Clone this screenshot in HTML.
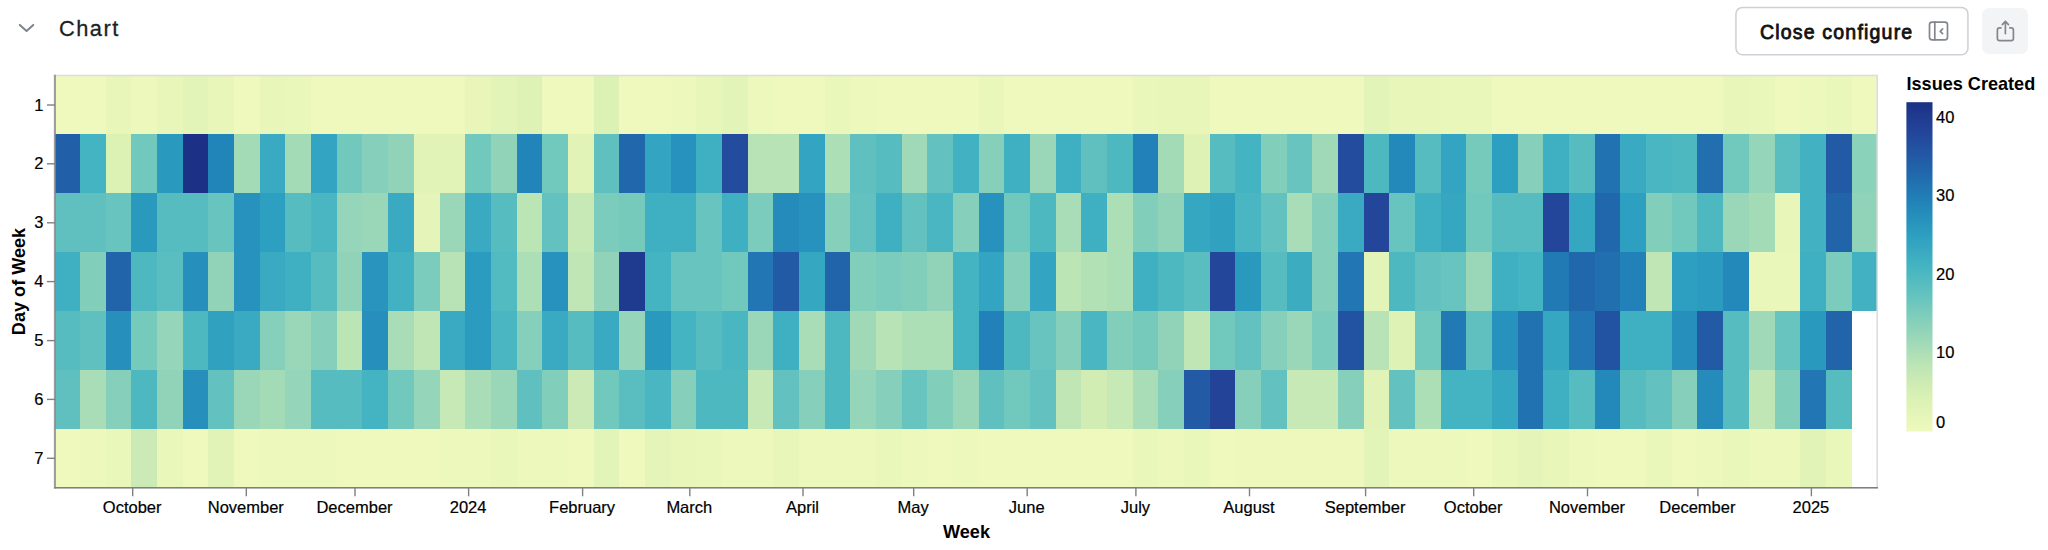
<!DOCTYPE html>
<html><head><meta charset="utf-8"><title>Chart</title>
<style>
html,body{margin:0;padding:0;background:#fff;}
body{width:2048px;height:550px;overflow:hidden;position:relative;font-family:"Liberation Sans",sans-serif;}
#hdr-title{position:absolute;left:59px;top:14.7px;font-size:21.8px;line-height:28px;color:#1b1f23;letter-spacing:1.5px;-webkit-text-stroke:0.3px #1b1f23;}
#btn{position:absolute;left:1736.5px;top:8px;width:232px;height:47.5px;}
#btn span{position:absolute;left:23.4px;top:11.5px;font-size:19.5px;line-height:24px;color:#111;letter-spacing:1.2px;-webkit-text-stroke:0.8px #111;white-space:nowrap;}
#share{position:absolute;left:1982px;top:8px;width:46px;height:46px;border-radius:7px;background:#f3f4f6;}
svg{position:absolute;left:0;top:0;}
.ax line{stroke:#808080;stroke-width:1.4;}
.lbl text{font-family:"Liberation Sans",sans-serif;font-size:16.5px;fill:#000;stroke:#000;stroke-width:0.2px;}
.ttl{font-family:"Liberation Sans",sans-serif;font-size:18.1px;font-weight:bold;fill:#000;}
</style></head><body>
<div id="hdr-title">Chart</div>
<div id="btn"><span>Close configure</span></div>
<div id="share"></div>
<svg width="2048" height="550" viewBox="0 0 2048 550">
<defs><linearGradient id="lg" x1="0" y1="0" x2="0" y2="1"><stop offset="0.0%" stop-color="#1c3185"/><stop offset="10.0%" stop-color="#23479c"/><stop offset="20.0%" stop-color="#2163aa"/><stop offset="30.0%" stop-color="#2182b8"/><stop offset="40.0%" stop-color="#2c9ec0"/><stop offset="50.0%" stop-color="#45b4c2"/><stop offset="60.0%" stop-color="#69c5be"/><stop offset="70.0%" stop-color="#94d5b9"/><stop offset="80.0%" stop-color="#bde5b5"/><stop offset="90.0%" stop-color="#dbf1b4"/><stop offset="100.0%" stop-color="#eff9bd"/></linearGradient></defs>
<g id="cells" shape-rendering="crispEdges">
<rect x="54.40" y="75.50" width="25.97" height="59.20" fill="#eff9bd"/>
<rect x="80.07" y="75.50" width="25.97" height="59.20" fill="#eff9bd"/>
<rect x="105.75" y="75.50" width="25.97" height="59.20" fill="#e8f6ba"/>
<rect x="131.42" y="75.50" width="25.97" height="59.20" fill="#edf8bc"/>
<rect x="157.09" y="75.50" width="25.97" height="59.20" fill="#e8f6ba"/>
<rect x="182.77" y="75.50" width="25.97" height="59.20" fill="#e3f4b8"/>
<rect x="208.44" y="75.50" width="25.97" height="59.20" fill="#e8f6ba"/>
<rect x="234.11" y="75.50" width="25.97" height="59.20" fill="#eff9bd"/>
<rect x="259.79" y="75.50" width="25.97" height="59.20" fill="#e8f6ba"/>
<rect x="285.46" y="75.50" width="25.97" height="59.20" fill="#eaf7bb"/>
<rect x="311.13" y="75.50" width="25.97" height="59.20" fill="#eff9bd"/>
<rect x="336.81" y="75.50" width="25.97" height="59.20" fill="#eff9bd"/>
<rect x="362.48" y="75.50" width="25.97" height="59.20" fill="#eff9bd"/>
<rect x="388.15" y="75.50" width="25.97" height="59.20" fill="#eff9bd"/>
<rect x="413.83" y="75.50" width="25.97" height="59.20" fill="#eff9bd"/>
<rect x="439.50" y="75.50" width="25.97" height="59.20" fill="#eff9bd"/>
<rect x="465.17" y="75.50" width="25.97" height="59.20" fill="#e8f6ba"/>
<rect x="490.85" y="75.50" width="25.97" height="59.20" fill="#e3f4b8"/>
<rect x="516.52" y="75.50" width="25.97" height="59.20" fill="#def2b6"/>
<rect x="542.19" y="75.50" width="25.97" height="59.20" fill="#eff9bd"/>
<rect x="567.86" y="75.50" width="25.97" height="59.20" fill="#eff9bd"/>
<rect x="593.54" y="75.50" width="25.97" height="59.20" fill="#dcf1b4"/>
<rect x="619.21" y="75.50" width="25.97" height="59.20" fill="#eff9bd"/>
<rect x="644.88" y="75.50" width="25.97" height="59.20" fill="#eff9bd"/>
<rect x="670.56" y="75.50" width="25.97" height="59.20" fill="#edf8bc"/>
<rect x="696.23" y="75.50" width="25.97" height="59.20" fill="#e8f6ba"/>
<rect x="721.90" y="75.50" width="25.97" height="59.20" fill="#e3f4b8"/>
<rect x="747.58" y="75.50" width="25.97" height="59.20" fill="#edf8bc"/>
<rect x="773.25" y="75.50" width="25.97" height="59.20" fill="#eff9bd"/>
<rect x="798.92" y="75.50" width="25.97" height="59.20" fill="#eff9bd"/>
<rect x="824.60" y="75.50" width="25.97" height="59.20" fill="#eaf7bb"/>
<rect x="850.27" y="75.50" width="25.97" height="59.20" fill="#edf8bc"/>
<rect x="875.94" y="75.50" width="25.97" height="59.20" fill="#eff9bd"/>
<rect x="901.62" y="75.50" width="25.97" height="59.20" fill="#eff9bd"/>
<rect x="927.29" y="75.50" width="25.97" height="59.20" fill="#eff9bd"/>
<rect x="952.96" y="75.50" width="25.97" height="59.20" fill="#eff9bd"/>
<rect x="978.64" y="75.50" width="25.97" height="59.20" fill="#eaf7bb"/>
<rect x="1004.31" y="75.50" width="25.97" height="59.20" fill="#eff9bd"/>
<rect x="1029.98" y="75.50" width="25.97" height="59.20" fill="#eff9bd"/>
<rect x="1055.66" y="75.50" width="25.97" height="59.20" fill="#eff9bd"/>
<rect x="1081.33" y="75.50" width="25.97" height="59.20" fill="#eff9bd"/>
<rect x="1107.00" y="75.50" width="25.97" height="59.20" fill="#eff9bd"/>
<rect x="1132.68" y="75.50" width="25.97" height="59.20" fill="#eaf7bb"/>
<rect x="1158.35" y="75.50" width="25.97" height="59.20" fill="#e8f6ba"/>
<rect x="1184.02" y="75.50" width="25.97" height="59.20" fill="#e8f6ba"/>
<rect x="1209.70" y="75.50" width="25.97" height="59.20" fill="#eff9bd"/>
<rect x="1235.37" y="75.50" width="25.97" height="59.20" fill="#eff9bd"/>
<rect x="1261.04" y="75.50" width="25.97" height="59.20" fill="#eff9bd"/>
<rect x="1286.72" y="75.50" width="25.97" height="59.20" fill="#eff9bd"/>
<rect x="1312.39" y="75.50" width="25.97" height="59.20" fill="#eff9bd"/>
<rect x="1338.06" y="75.50" width="25.97" height="59.20" fill="#eff9bd"/>
<rect x="1363.74" y="75.50" width="25.97" height="59.20" fill="#e3f4b8"/>
<rect x="1389.41" y="75.50" width="25.97" height="59.20" fill="#e8f6ba"/>
<rect x="1415.08" y="75.50" width="25.97" height="59.20" fill="#e8f6ba"/>
<rect x="1440.75" y="75.50" width="25.97" height="59.20" fill="#eaf7bb"/>
<rect x="1466.43" y="75.50" width="25.97" height="59.20" fill="#eaf7bb"/>
<rect x="1492.10" y="75.50" width="25.97" height="59.20" fill="#eff9bd"/>
<rect x="1517.77" y="75.50" width="25.97" height="59.20" fill="#eff9bd"/>
<rect x="1543.45" y="75.50" width="25.97" height="59.20" fill="#eff9bd"/>
<rect x="1569.12" y="75.50" width="25.97" height="59.20" fill="#eff9bd"/>
<rect x="1594.79" y="75.50" width="25.97" height="59.20" fill="#eff9bd"/>
<rect x="1620.47" y="75.50" width="25.97" height="59.20" fill="#eff9bd"/>
<rect x="1646.14" y="75.50" width="25.97" height="59.20" fill="#eff9bd"/>
<rect x="1671.81" y="75.50" width="25.97" height="59.20" fill="#eff9bd"/>
<rect x="1697.49" y="75.50" width="25.97" height="59.20" fill="#eff9bd"/>
<rect x="1723.16" y="75.50" width="25.97" height="59.20" fill="#e8f6ba"/>
<rect x="1748.83" y="75.50" width="25.97" height="59.20" fill="#eaf7bb"/>
<rect x="1774.51" y="75.50" width="25.97" height="59.20" fill="#eff9bd"/>
<rect x="1800.18" y="75.50" width="25.97" height="59.20" fill="#edf8bc"/>
<rect x="1825.85" y="75.50" width="25.97" height="59.20" fill="#eaf7bb"/>
<rect x="1851.53" y="75.50" width="25.97" height="59.20" fill="#eff9bd"/>
<rect x="54.40" y="134.40" width="25.97" height="59.20" fill="#2160a9"/>
<rect x="80.07" y="134.40" width="25.97" height="59.20" fill="#45b4c2"/>
<rect x="105.75" y="134.40" width="25.97" height="59.20" fill="#dcf1b4"/>
<rect x="131.42" y="134.40" width="25.97" height="59.20" fill="#71c8bd"/>
<rect x="157.09" y="134.40" width="25.97" height="59.20" fill="#2a99be"/>
<rect x="182.77" y="134.40" width="25.97" height="59.20" fill="#1c3185"/>
<rect x="208.44" y="134.40" width="25.97" height="59.20" fill="#2285b9"/>
<rect x="234.11" y="134.40" width="25.97" height="59.20" fill="#a4dbb7"/>
<rect x="259.79" y="134.40" width="25.97" height="59.20" fill="#39aac1"/>
<rect x="285.46" y="134.40" width="25.97" height="59.20" fill="#a4dbb7"/>
<rect x="311.13" y="134.40" width="25.97" height="59.20" fill="#33a4c1"/>
<rect x="336.81" y="134.40" width="25.97" height="59.20" fill="#71c8bd"/>
<rect x="362.48" y="134.40" width="25.97" height="59.20" fill="#86d0bb"/>
<rect x="388.15" y="134.40" width="25.97" height="59.20" fill="#90d3b9"/>
<rect x="413.83" y="134.40" width="25.97" height="59.20" fill="#e1f3b7"/>
<rect x="439.50" y="134.40" width="25.97" height="59.20" fill="#e1f3b7"/>
<rect x="465.17" y="134.40" width="25.97" height="59.20" fill="#71c8bd"/>
<rect x="490.85" y="134.40" width="25.97" height="59.20" fill="#90d3b9"/>
<rect x="516.52" y="134.40" width="25.97" height="59.20" fill="#2285b9"/>
<rect x="542.19" y="134.40" width="25.97" height="59.20" fill="#71c8bd"/>
<rect x="567.86" y="134.40" width="25.97" height="59.20" fill="#e1f3b7"/>
<rect x="593.54" y="134.40" width="25.97" height="59.20" fill="#5fc0bf"/>
<rect x="619.21" y="134.40" width="25.97" height="59.20" fill="#2167ac"/>
<rect x="644.88" y="134.40" width="25.97" height="59.20" fill="#33a4c1"/>
<rect x="670.56" y="134.40" width="25.97" height="59.20" fill="#2792bd"/>
<rect x="696.23" y="134.40" width="25.97" height="59.20" fill="#3fafc2"/>
<rect x="721.90" y="134.40" width="25.97" height="59.20" fill="#234c9f"/>
<rect x="747.58" y="134.40" width="25.97" height="59.20" fill="#b7e3b6"/>
<rect x="773.25" y="134.40" width="25.97" height="59.20" fill="#b7e3b6"/>
<rect x="798.92" y="134.40" width="25.97" height="59.20" fill="#33a4c1"/>
<rect x="824.60" y="134.40" width="25.97" height="59.20" fill="#addfb7"/>
<rect x="850.27" y="134.40" width="25.97" height="59.20" fill="#5fc0bf"/>
<rect x="875.94" y="134.40" width="25.97" height="59.20" fill="#56bcc0"/>
<rect x="901.62" y="134.40" width="25.97" height="59.20" fill="#9fd9b8"/>
<rect x="927.29" y="134.40" width="25.97" height="59.20" fill="#63c2bf"/>
<rect x="952.96" y="134.40" width="25.97" height="59.20" fill="#42b1c2"/>
<rect x="978.64" y="134.40" width="25.97" height="59.20" fill="#86d0bb"/>
<rect x="1004.31" y="134.40" width="25.97" height="59.20" fill="#3fafc2"/>
<rect x="1029.98" y="134.40" width="25.97" height="59.20" fill="#9ad7b8"/>
<rect x="1055.66" y="134.40" width="25.97" height="59.20" fill="#3fafc2"/>
<rect x="1081.33" y="134.40" width="25.97" height="59.20" fill="#5fc0bf"/>
<rect x="1107.00" y="134.40" width="25.97" height="59.20" fill="#4eb8c1"/>
<rect x="1132.68" y="134.40" width="25.97" height="59.20" fill="#2181b8"/>
<rect x="1158.35" y="134.40" width="25.97" height="59.20" fill="#a4dbb7"/>
<rect x="1184.02" y="134.40" width="25.97" height="59.20" fill="#def2b6"/>
<rect x="1209.70" y="134.40" width="25.97" height="59.20" fill="#56bcc0"/>
<rect x="1235.37" y="134.40" width="25.97" height="59.20" fill="#45b4c2"/>
<rect x="1261.04" y="134.40" width="25.97" height="59.20" fill="#81cebb"/>
<rect x="1286.72" y="134.40" width="25.97" height="59.20" fill="#67c4be"/>
<rect x="1312.39" y="134.40" width="25.97" height="59.20" fill="#9fd9b8"/>
<rect x="1338.06" y="134.40" width="25.97" height="59.20" fill="#234c9f"/>
<rect x="1363.74" y="134.40" width="25.97" height="59.20" fill="#4eb8c1"/>
<rect x="1389.41" y="134.40" width="25.97" height="59.20" fill="#2388ba"/>
<rect x="1415.08" y="134.40" width="25.97" height="59.20" fill="#56bcc0"/>
<rect x="1440.75" y="134.40" width="25.97" height="59.20" fill="#33a4c1"/>
<rect x="1466.43" y="134.40" width="25.97" height="59.20" fill="#76cabc"/>
<rect x="1492.10" y="134.40" width="25.97" height="59.20" fill="#2d9fc0"/>
<rect x="1517.77" y="134.40" width="25.97" height="59.20" fill="#86d0bb"/>
<rect x="1543.45" y="134.40" width="25.97" height="59.20" fill="#3fafc2"/>
<rect x="1569.12" y="134.40" width="25.97" height="59.20" fill="#56bcc0"/>
<rect x="1594.79" y="134.40" width="25.97" height="59.20" fill="#2172b1"/>
<rect x="1620.47" y="134.40" width="25.97" height="59.20" fill="#39aac1"/>
<rect x="1646.14" y="134.40" width="25.97" height="59.20" fill="#49b6c2"/>
<rect x="1671.81" y="134.40" width="25.97" height="59.20" fill="#4eb8c1"/>
<rect x="1697.49" y="134.40" width="25.97" height="59.20" fill="#216faf"/>
<rect x="1723.16" y="134.40" width="25.97" height="59.20" fill="#71c8bd"/>
<rect x="1748.83" y="134.40" width="25.97" height="59.20" fill="#95d5b9"/>
<rect x="1774.51" y="134.40" width="25.97" height="59.20" fill="#5abec0"/>
<rect x="1800.18" y="134.40" width="25.97" height="59.20" fill="#42b1c2"/>
<rect x="1825.85" y="134.40" width="25.97" height="59.20" fill="#225aa5"/>
<rect x="1851.53" y="134.40" width="25.97" height="59.20" fill="#8bd2ba"/>
<rect x="54.40" y="193.30" width="25.97" height="59.20" fill="#5fc0bf"/>
<rect x="80.07" y="193.30" width="25.97" height="59.20" fill="#5fc0bf"/>
<rect x="105.75" y="193.30" width="25.97" height="59.20" fill="#67c4be"/>
<rect x="131.42" y="193.30" width="25.97" height="59.20" fill="#2a99be"/>
<rect x="157.09" y="193.30" width="25.97" height="59.20" fill="#56bcc0"/>
<rect x="182.77" y="193.30" width="25.97" height="59.20" fill="#56bcc0"/>
<rect x="208.44" y="193.30" width="25.97" height="59.20" fill="#67c4be"/>
<rect x="234.11" y="193.30" width="25.97" height="59.20" fill="#2792bd"/>
<rect x="259.79" y="193.30" width="25.97" height="59.20" fill="#2d9fc0"/>
<rect x="285.46" y="193.30" width="25.97" height="59.20" fill="#56bcc0"/>
<rect x="311.13" y="193.30" width="25.97" height="59.20" fill="#49b6c2"/>
<rect x="336.81" y="193.30" width="25.97" height="59.20" fill="#95d5b9"/>
<rect x="362.48" y="193.30" width="25.97" height="59.20" fill="#9ad7b8"/>
<rect x="388.15" y="193.30" width="25.97" height="59.20" fill="#39aac1"/>
<rect x="413.83" y="193.30" width="25.97" height="59.20" fill="#e5f5b9"/>
<rect x="439.50" y="193.30" width="25.97" height="59.20" fill="#9ad7b8"/>
<rect x="465.17" y="193.30" width="25.97" height="59.20" fill="#39aac1"/>
<rect x="490.85" y="193.30" width="25.97" height="59.20" fill="#56bcc0"/>
<rect x="516.52" y="193.30" width="25.97" height="59.20" fill="#bce5b5"/>
<rect x="542.19" y="193.30" width="25.97" height="59.20" fill="#63c2bf"/>
<rect x="567.86" y="193.30" width="25.97" height="59.20" fill="#c7e9b5"/>
<rect x="593.54" y="193.30" width="25.97" height="59.20" fill="#7bccbc"/>
<rect x="619.21" y="193.30" width="25.97" height="59.20" fill="#76cabc"/>
<rect x="644.88" y="193.30" width="25.97" height="59.20" fill="#3fafc2"/>
<rect x="670.56" y="193.30" width="25.97" height="59.20" fill="#3fafc2"/>
<rect x="696.23" y="193.30" width="25.97" height="59.20" fill="#67c4be"/>
<rect x="721.90" y="193.30" width="25.97" height="59.20" fill="#3fafc2"/>
<rect x="747.58" y="193.30" width="25.97" height="59.20" fill="#7bccbc"/>
<rect x="773.25" y="193.30" width="25.97" height="59.20" fill="#258bbb"/>
<rect x="798.92" y="193.30" width="25.97" height="59.20" fill="#2792bd"/>
<rect x="824.60" y="193.30" width="25.97" height="59.20" fill="#86d0bb"/>
<rect x="850.27" y="193.30" width="25.97" height="59.20" fill="#63c2bf"/>
<rect x="875.94" y="193.30" width="25.97" height="59.20" fill="#3fafc2"/>
<rect x="901.62" y="193.30" width="25.97" height="59.20" fill="#63c2bf"/>
<rect x="927.29" y="193.30" width="25.97" height="59.20" fill="#49b6c2"/>
<rect x="952.96" y="193.30" width="25.97" height="59.20" fill="#86d0bb"/>
<rect x="978.64" y="193.30" width="25.97" height="59.20" fill="#2792bd"/>
<rect x="1004.31" y="193.30" width="25.97" height="59.20" fill="#71c8bd"/>
<rect x="1029.98" y="193.30" width="25.97" height="59.20" fill="#4eb8c1"/>
<rect x="1055.66" y="193.30" width="25.97" height="59.20" fill="#a8ddb7"/>
<rect x="1081.33" y="193.30" width="25.97" height="59.20" fill="#3fafc2"/>
<rect x="1107.00" y="193.30" width="25.97" height="59.20" fill="#addfb7"/>
<rect x="1132.68" y="193.30" width="25.97" height="59.20" fill="#81cebb"/>
<rect x="1158.35" y="193.30" width="25.97" height="59.20" fill="#90d3b9"/>
<rect x="1184.02" y="193.30" width="25.97" height="59.20" fill="#36a7c1"/>
<rect x="1209.70" y="193.30" width="25.97" height="59.20" fill="#30a2c0"/>
<rect x="1235.37" y="193.30" width="25.97" height="59.20" fill="#49b6c2"/>
<rect x="1261.04" y="193.30" width="25.97" height="59.20" fill="#63c2bf"/>
<rect x="1286.72" y="193.30" width="25.97" height="59.20" fill="#a8ddb7"/>
<rect x="1312.39" y="193.30" width="25.97" height="59.20" fill="#86d0bb"/>
<rect x="1338.06" y="193.30" width="25.97" height="59.20" fill="#39aac1"/>
<rect x="1363.74" y="193.30" width="25.97" height="59.20" fill="#23469b"/>
<rect x="1389.41" y="193.30" width="25.97" height="59.20" fill="#67c4be"/>
<rect x="1415.08" y="193.30" width="25.97" height="59.20" fill="#3fafc2"/>
<rect x="1440.75" y="193.30" width="25.97" height="59.20" fill="#36a7c1"/>
<rect x="1466.43" y="193.30" width="25.97" height="59.20" fill="#71c8bd"/>
<rect x="1492.10" y="193.30" width="25.97" height="59.20" fill="#56bcc0"/>
<rect x="1517.77" y="193.30" width="25.97" height="59.20" fill="#56bcc0"/>
<rect x="1543.45" y="193.30" width="25.97" height="59.20" fill="#23469b"/>
<rect x="1569.12" y="193.30" width="25.97" height="59.20" fill="#36a7c1"/>
<rect x="1594.79" y="193.30" width="25.97" height="59.20" fill="#2167ac"/>
<rect x="1620.47" y="193.30" width="25.97" height="59.20" fill="#2d9fc0"/>
<rect x="1646.14" y="193.30" width="25.97" height="59.20" fill="#81cebb"/>
<rect x="1671.81" y="193.30" width="25.97" height="59.20" fill="#71c8bd"/>
<rect x="1697.49" y="193.30" width="25.97" height="59.20" fill="#4eb8c1"/>
<rect x="1723.16" y="193.30" width="25.97" height="59.20" fill="#9ad7b8"/>
<rect x="1748.83" y="193.30" width="25.97" height="59.20" fill="#a4dbb7"/>
<rect x="1774.51" y="193.30" width="25.97" height="59.20" fill="#e8f6ba"/>
<rect x="1800.18" y="193.30" width="25.97" height="59.20" fill="#42b1c2"/>
<rect x="1825.85" y="193.30" width="25.97" height="59.20" fill="#2164aa"/>
<rect x="1851.53" y="193.30" width="25.97" height="59.20" fill="#90d3b9"/>
<rect x="54.40" y="252.20" width="25.97" height="59.20" fill="#3fafc2"/>
<rect x="80.07" y="252.20" width="25.97" height="59.20" fill="#81cebb"/>
<rect x="105.75" y="252.20" width="25.97" height="59.20" fill="#2164aa"/>
<rect x="131.42" y="252.20" width="25.97" height="59.20" fill="#4eb8c1"/>
<rect x="157.09" y="252.20" width="25.97" height="59.20" fill="#5abec0"/>
<rect x="182.77" y="252.20" width="25.97" height="59.20" fill="#268fbc"/>
<rect x="208.44" y="252.20" width="25.97" height="59.20" fill="#90d3b9"/>
<rect x="234.11" y="252.20" width="25.97" height="59.20" fill="#2792bd"/>
<rect x="259.79" y="252.20" width="25.97" height="59.20" fill="#39aac1"/>
<rect x="285.46" y="252.20" width="25.97" height="59.20" fill="#3fafc2"/>
<rect x="311.13" y="252.20" width="25.97" height="59.20" fill="#56bcc0"/>
<rect x="336.81" y="252.20" width="25.97" height="59.20" fill="#90d3b9"/>
<rect x="362.48" y="252.20" width="25.97" height="59.20" fill="#2995be"/>
<rect x="388.15" y="252.20" width="25.97" height="59.20" fill="#42b1c2"/>
<rect x="413.83" y="252.20" width="25.97" height="59.20" fill="#7bccbc"/>
<rect x="439.50" y="252.20" width="25.97" height="59.20" fill="#b7e3b6"/>
<rect x="465.17" y="252.20" width="25.97" height="59.20" fill="#2b9cbf"/>
<rect x="490.85" y="252.20" width="25.97" height="59.20" fill="#52bac1"/>
<rect x="516.52" y="252.20" width="25.97" height="59.20" fill="#addfb7"/>
<rect x="542.19" y="252.20" width="25.97" height="59.20" fill="#2792bd"/>
<rect x="567.86" y="252.20" width="25.97" height="59.20" fill="#c0e6b5"/>
<rect x="593.54" y="252.20" width="25.97" height="59.20" fill="#90d3b9"/>
<rect x="619.21" y="252.20" width="25.97" height="59.20" fill="#1f3b90"/>
<rect x="644.88" y="252.20" width="25.97" height="59.20" fill="#45b4c2"/>
<rect x="670.56" y="252.20" width="25.97" height="59.20" fill="#67c4be"/>
<rect x="696.23" y="252.20" width="25.97" height="59.20" fill="#67c4be"/>
<rect x="721.90" y="252.20" width="25.97" height="59.20" fill="#71c8bd"/>
<rect x="747.58" y="252.20" width="25.97" height="59.20" fill="#2176b3"/>
<rect x="773.25" y="252.20" width="25.97" height="59.20" fill="#225aa5"/>
<rect x="798.92" y="252.20" width="25.97" height="59.20" fill="#36a7c1"/>
<rect x="824.60" y="252.20" width="25.97" height="59.20" fill="#2164aa"/>
<rect x="850.27" y="252.20" width="25.97" height="59.20" fill="#81cebb"/>
<rect x="875.94" y="252.20" width="25.97" height="59.20" fill="#7bccbc"/>
<rect x="901.62" y="252.20" width="25.97" height="59.20" fill="#81cebb"/>
<rect x="927.29" y="252.20" width="25.97" height="59.20" fill="#90d3b9"/>
<rect x="952.96" y="252.20" width="25.97" height="59.20" fill="#45b4c2"/>
<rect x="978.64" y="252.20" width="25.97" height="59.20" fill="#33a4c1"/>
<rect x="1004.31" y="252.20" width="25.97" height="59.20" fill="#86d0bb"/>
<rect x="1029.98" y="252.20" width="25.97" height="59.20" fill="#33a4c1"/>
<rect x="1055.66" y="252.20" width="25.97" height="59.20" fill="#bce5b5"/>
<rect x="1081.33" y="252.20" width="25.97" height="59.20" fill="#b2e1b6"/>
<rect x="1107.00" y="252.20" width="25.97" height="59.20" fill="#addfb7"/>
<rect x="1132.68" y="252.20" width="25.97" height="59.20" fill="#3fafc2"/>
<rect x="1158.35" y="252.20" width="25.97" height="59.20" fill="#4eb8c1"/>
<rect x="1184.02" y="252.20" width="25.97" height="59.20" fill="#5abec0"/>
<rect x="1209.70" y="252.20" width="25.97" height="59.20" fill="#23469b"/>
<rect x="1235.37" y="252.20" width="25.97" height="59.20" fill="#2a99be"/>
<rect x="1261.04" y="252.20" width="25.97" height="59.20" fill="#56bcc0"/>
<rect x="1286.72" y="252.20" width="25.97" height="59.20" fill="#3cacc1"/>
<rect x="1312.39" y="252.20" width="25.97" height="59.20" fill="#86d0bb"/>
<rect x="1338.06" y="252.20" width="25.97" height="59.20" fill="#2176b3"/>
<rect x="1363.74" y="252.20" width="25.97" height="59.20" fill="#e3f4b8"/>
<rect x="1389.41" y="252.20" width="25.97" height="59.20" fill="#4eb8c1"/>
<rect x="1415.08" y="252.20" width="25.97" height="59.20" fill="#63c2bf"/>
<rect x="1440.75" y="252.20" width="25.97" height="59.20" fill="#67c4be"/>
<rect x="1466.43" y="252.20" width="25.97" height="59.20" fill="#9ad7b8"/>
<rect x="1492.10" y="252.20" width="25.97" height="59.20" fill="#3fafc2"/>
<rect x="1517.77" y="252.20" width="25.97" height="59.20" fill="#45b4c2"/>
<rect x="1543.45" y="252.20" width="25.97" height="59.20" fill="#217ab4"/>
<rect x="1569.12" y="252.20" width="25.97" height="59.20" fill="#2167ac"/>
<rect x="1594.79" y="252.20" width="25.97" height="59.20" fill="#216faf"/>
<rect x="1620.47" y="252.20" width="25.97" height="59.20" fill="#2181b8"/>
<rect x="1646.14" y="252.20" width="25.97" height="59.20" fill="#c0e6b5"/>
<rect x="1671.81" y="252.20" width="25.97" height="59.20" fill="#2d9fc0"/>
<rect x="1697.49" y="252.20" width="25.97" height="59.20" fill="#2b9cbf"/>
<rect x="1723.16" y="252.20" width="25.97" height="59.20" fill="#2388ba"/>
<rect x="1748.83" y="252.20" width="25.97" height="59.20" fill="#eaf7bb"/>
<rect x="1774.51" y="252.20" width="25.97" height="59.20" fill="#eaf7bb"/>
<rect x="1800.18" y="252.20" width="25.97" height="59.20" fill="#3fafc2"/>
<rect x="1825.85" y="252.20" width="25.97" height="59.20" fill="#7bccbc"/>
<rect x="1851.53" y="252.20" width="25.97" height="59.20" fill="#42b1c2"/>
<rect x="54.40" y="311.10" width="25.97" height="59.20" fill="#56bcc0"/>
<rect x="80.07" y="311.10" width="25.97" height="59.20" fill="#5fc0bf"/>
<rect x="105.75" y="311.10" width="25.97" height="59.20" fill="#268fbc"/>
<rect x="131.42" y="311.10" width="25.97" height="59.20" fill="#76cabc"/>
<rect x="157.09" y="311.10" width="25.97" height="59.20" fill="#95d5b9"/>
<rect x="182.77" y="311.10" width="25.97" height="59.20" fill="#4eb8c1"/>
<rect x="208.44" y="311.10" width="25.97" height="59.20" fill="#30a2c0"/>
<rect x="234.11" y="311.10" width="25.97" height="59.20" fill="#39aac1"/>
<rect x="259.79" y="311.10" width="25.97" height="59.20" fill="#86d0bb"/>
<rect x="285.46" y="311.10" width="25.97" height="59.20" fill="#9ad7b8"/>
<rect x="311.13" y="311.10" width="25.97" height="59.20" fill="#86d0bb"/>
<rect x="336.81" y="311.10" width="25.97" height="59.20" fill="#bce5b5"/>
<rect x="362.48" y="311.10" width="25.97" height="59.20" fill="#268fbc"/>
<rect x="388.15" y="311.10" width="25.97" height="59.20" fill="#a8ddb7"/>
<rect x="413.83" y="311.10" width="25.97" height="59.20" fill="#c0e6b5"/>
<rect x="439.50" y="311.10" width="25.97" height="59.20" fill="#39aac1"/>
<rect x="465.17" y="311.10" width="25.97" height="59.20" fill="#2b9cbf"/>
<rect x="490.85" y="311.10" width="25.97" height="59.20" fill="#49b6c2"/>
<rect x="516.52" y="311.10" width="25.97" height="59.20" fill="#86d0bb"/>
<rect x="542.19" y="311.10" width="25.97" height="59.20" fill="#39aac1"/>
<rect x="567.86" y="311.10" width="25.97" height="59.20" fill="#56bcc0"/>
<rect x="593.54" y="311.10" width="25.97" height="59.20" fill="#39aac1"/>
<rect x="619.21" y="311.10" width="25.97" height="59.20" fill="#95d5b9"/>
<rect x="644.88" y="311.10" width="25.97" height="59.20" fill="#2a99be"/>
<rect x="670.56" y="311.10" width="25.97" height="59.20" fill="#45b4c2"/>
<rect x="696.23" y="311.10" width="25.97" height="59.20" fill="#56bcc0"/>
<rect x="721.90" y="311.10" width="25.97" height="59.20" fill="#49b6c2"/>
<rect x="747.58" y="311.10" width="25.97" height="59.20" fill="#9ad7b8"/>
<rect x="773.25" y="311.10" width="25.97" height="59.20" fill="#3fafc2"/>
<rect x="798.92" y="311.10" width="25.97" height="59.20" fill="#a8ddb7"/>
<rect x="824.60" y="311.10" width="25.97" height="59.20" fill="#4eb8c1"/>
<rect x="850.27" y="311.10" width="25.97" height="59.20" fill="#9fd9b8"/>
<rect x="875.94" y="311.10" width="25.97" height="59.20" fill="#b7e3b6"/>
<rect x="901.62" y="311.10" width="25.97" height="59.20" fill="#addfb7"/>
<rect x="927.29" y="311.10" width="25.97" height="59.20" fill="#addfb7"/>
<rect x="952.96" y="311.10" width="25.97" height="59.20" fill="#45b4c2"/>
<rect x="978.64" y="311.10" width="25.97" height="59.20" fill="#2181b8"/>
<rect x="1004.31" y="311.10" width="25.97" height="59.20" fill="#4eb8c1"/>
<rect x="1029.98" y="311.10" width="25.97" height="59.20" fill="#67c4be"/>
<rect x="1055.66" y="311.10" width="25.97" height="59.20" fill="#86d0bb"/>
<rect x="1081.33" y="311.10" width="25.97" height="59.20" fill="#49b6c2"/>
<rect x="1107.00" y="311.10" width="25.97" height="59.20" fill="#81cebb"/>
<rect x="1132.68" y="311.10" width="25.97" height="59.20" fill="#76cabc"/>
<rect x="1158.35" y="311.10" width="25.97" height="59.20" fill="#90d3b9"/>
<rect x="1184.02" y="311.10" width="25.97" height="59.20" fill="#c0e6b5"/>
<rect x="1209.70" y="311.10" width="25.97" height="59.20" fill="#71c8bd"/>
<rect x="1235.37" y="311.10" width="25.97" height="59.20" fill="#63c2bf"/>
<rect x="1261.04" y="311.10" width="25.97" height="59.20" fill="#86d0bb"/>
<rect x="1286.72" y="311.10" width="25.97" height="59.20" fill="#9ad7b8"/>
<rect x="1312.39" y="311.10" width="25.97" height="59.20" fill="#7bccbc"/>
<rect x="1338.06" y="311.10" width="25.97" height="59.20" fill="#2253a2"/>
<rect x="1363.74" y="311.10" width="25.97" height="59.20" fill="#b7e3b6"/>
<rect x="1389.41" y="311.10" width="25.97" height="59.20" fill="#def2b6"/>
<rect x="1415.08" y="311.10" width="25.97" height="59.20" fill="#71c8bd"/>
<rect x="1440.75" y="311.10" width="25.97" height="59.20" fill="#217ab4"/>
<rect x="1466.43" y="311.10" width="25.97" height="59.20" fill="#5fc0bf"/>
<rect x="1492.10" y="311.10" width="25.97" height="59.20" fill="#2792bd"/>
<rect x="1517.77" y="311.10" width="25.97" height="59.20" fill="#2172b1"/>
<rect x="1543.45" y="311.10" width="25.97" height="59.20" fill="#36a7c1"/>
<rect x="1569.12" y="311.10" width="25.97" height="59.20" fill="#2176b3"/>
<rect x="1594.79" y="311.10" width="25.97" height="59.20" fill="#2253a2"/>
<rect x="1620.47" y="311.10" width="25.97" height="59.20" fill="#3fafc2"/>
<rect x="1646.14" y="311.10" width="25.97" height="59.20" fill="#3fafc2"/>
<rect x="1671.81" y="311.10" width="25.97" height="59.20" fill="#268fbc"/>
<rect x="1697.49" y="311.10" width="25.97" height="59.20" fill="#225aa5"/>
<rect x="1723.16" y="311.10" width="25.97" height="59.20" fill="#56bcc0"/>
<rect x="1748.83" y="311.10" width="25.97" height="59.20" fill="#9fd9b8"/>
<rect x="1774.51" y="311.10" width="25.97" height="59.20" fill="#67c4be"/>
<rect x="1800.18" y="311.10" width="25.97" height="59.20" fill="#2a99be"/>
<rect x="1825.85" y="311.10" width="25.97" height="59.20" fill="#2164aa"/>
<rect x="54.40" y="370.00" width="25.97" height="59.20" fill="#5fc0bf"/>
<rect x="80.07" y="370.00" width="25.97" height="59.20" fill="#a8ddb7"/>
<rect x="105.75" y="370.00" width="25.97" height="59.20" fill="#86d0bb"/>
<rect x="131.42" y="370.00" width="25.97" height="59.20" fill="#4eb8c1"/>
<rect x="157.09" y="370.00" width="25.97" height="59.20" fill="#90d3b9"/>
<rect x="182.77" y="370.00" width="25.97" height="59.20" fill="#268fbc"/>
<rect x="208.44" y="370.00" width="25.97" height="59.20" fill="#63c2bf"/>
<rect x="234.11" y="370.00" width="25.97" height="59.20" fill="#9ad7b8"/>
<rect x="259.79" y="370.00" width="25.97" height="59.20" fill="#a4dbb7"/>
<rect x="285.46" y="370.00" width="25.97" height="59.20" fill="#95d5b9"/>
<rect x="311.13" y="370.00" width="25.97" height="59.20" fill="#56bcc0"/>
<rect x="336.81" y="370.00" width="25.97" height="59.20" fill="#56bcc0"/>
<rect x="362.48" y="370.00" width="25.97" height="59.20" fill="#45b4c2"/>
<rect x="388.15" y="370.00" width="25.97" height="59.20" fill="#71c8bd"/>
<rect x="413.83" y="370.00" width="25.97" height="59.20" fill="#95d5b9"/>
<rect x="439.50" y="370.00" width="25.97" height="59.20" fill="#c7e9b5"/>
<rect x="465.17" y="370.00" width="25.97" height="59.20" fill="#a8ddb7"/>
<rect x="490.85" y="370.00" width="25.97" height="59.20" fill="#9ad7b8"/>
<rect x="516.52" y="370.00" width="25.97" height="59.20" fill="#5fc0bf"/>
<rect x="542.19" y="370.00" width="25.97" height="59.20" fill="#81cebb"/>
<rect x="567.86" y="370.00" width="25.97" height="59.20" fill="#cbeab5"/>
<rect x="593.54" y="370.00" width="25.97" height="59.20" fill="#71c8bd"/>
<rect x="619.21" y="370.00" width="25.97" height="59.20" fill="#5abec0"/>
<rect x="644.88" y="370.00" width="25.97" height="59.20" fill="#49b6c2"/>
<rect x="670.56" y="370.00" width="25.97" height="59.20" fill="#86d0bb"/>
<rect x="696.23" y="370.00" width="25.97" height="59.20" fill="#4eb8c1"/>
<rect x="721.90" y="370.00" width="25.97" height="59.20" fill="#4eb8c1"/>
<rect x="747.58" y="370.00" width="25.97" height="59.20" fill="#c7e9b5"/>
<rect x="773.25" y="370.00" width="25.97" height="59.20" fill="#63c2bf"/>
<rect x="798.92" y="370.00" width="25.97" height="59.20" fill="#86d0bb"/>
<rect x="824.60" y="370.00" width="25.97" height="59.20" fill="#4eb8c1"/>
<rect x="850.27" y="370.00" width="25.97" height="59.20" fill="#95d5b9"/>
<rect x="875.94" y="370.00" width="25.97" height="59.20" fill="#86d0bb"/>
<rect x="901.62" y="370.00" width="25.97" height="59.20" fill="#67c4be"/>
<rect x="927.29" y="370.00" width="25.97" height="59.20" fill="#81cebb"/>
<rect x="952.96" y="370.00" width="25.97" height="59.20" fill="#9ad7b8"/>
<rect x="978.64" y="370.00" width="25.97" height="59.20" fill="#5fc0bf"/>
<rect x="1004.31" y="370.00" width="25.97" height="59.20" fill="#71c8bd"/>
<rect x="1029.98" y="370.00" width="25.97" height="59.20" fill="#63c2bf"/>
<rect x="1055.66" y="370.00" width="25.97" height="59.20" fill="#c0e6b5"/>
<rect x="1081.33" y="370.00" width="25.97" height="59.20" fill="#d2edb4"/>
<rect x="1107.00" y="370.00" width="25.97" height="59.20" fill="#c7e9b5"/>
<rect x="1132.68" y="370.00" width="25.97" height="59.20" fill="#a8ddb7"/>
<rect x="1158.35" y="370.00" width="25.97" height="59.20" fill="#86d0bb"/>
<rect x="1184.02" y="370.00" width="25.97" height="59.20" fill="#225aa5"/>
<rect x="1209.70" y="370.00" width="25.97" height="59.20" fill="#224398"/>
<rect x="1235.37" y="370.00" width="25.97" height="59.20" fill="#86d0bb"/>
<rect x="1261.04" y="370.00" width="25.97" height="59.20" fill="#63c2bf"/>
<rect x="1286.72" y="370.00" width="25.97" height="59.20" fill="#c7e9b5"/>
<rect x="1312.39" y="370.00" width="25.97" height="59.20" fill="#c7e9b5"/>
<rect x="1338.06" y="370.00" width="25.97" height="59.20" fill="#86d0bb"/>
<rect x="1363.74" y="370.00" width="25.97" height="59.20" fill="#e1f3b7"/>
<rect x="1389.41" y="370.00" width="25.97" height="59.20" fill="#63c2bf"/>
<rect x="1415.08" y="370.00" width="25.97" height="59.20" fill="#addfb7"/>
<rect x="1440.75" y="370.00" width="25.97" height="59.20" fill="#45b4c2"/>
<rect x="1466.43" y="370.00" width="25.97" height="59.20" fill="#45b4c2"/>
<rect x="1492.10" y="370.00" width="25.97" height="59.20" fill="#36a7c1"/>
<rect x="1517.77" y="370.00" width="25.97" height="59.20" fill="#2172b1"/>
<rect x="1543.45" y="370.00" width="25.97" height="59.20" fill="#3fafc2"/>
<rect x="1569.12" y="370.00" width="25.97" height="59.20" fill="#56bcc0"/>
<rect x="1594.79" y="370.00" width="25.97" height="59.20" fill="#2388ba"/>
<rect x="1620.47" y="370.00" width="25.97" height="59.20" fill="#56bcc0"/>
<rect x="1646.14" y="370.00" width="25.97" height="59.20" fill="#63c2bf"/>
<rect x="1671.81" y="370.00" width="25.97" height="59.20" fill="#86d0bb"/>
<rect x="1697.49" y="370.00" width="25.97" height="59.20" fill="#258bbb"/>
<rect x="1723.16" y="370.00" width="25.97" height="59.20" fill="#56bcc0"/>
<rect x="1748.83" y="370.00" width="25.97" height="59.20" fill="#c0e6b5"/>
<rect x="1774.51" y="370.00" width="25.97" height="59.20" fill="#81cebb"/>
<rect x="1800.18" y="370.00" width="25.97" height="59.20" fill="#2176b3"/>
<rect x="1825.85" y="370.00" width="25.97" height="59.20" fill="#56bcc0"/>
<rect x="54.40" y="428.90" width="25.97" height="58.90" fill="#eff9bd"/>
<rect x="80.07" y="428.90" width="25.97" height="58.90" fill="#edf8bc"/>
<rect x="105.75" y="428.90" width="25.97" height="58.90" fill="#eaf7bb"/>
<rect x="131.42" y="428.90" width="25.97" height="58.90" fill="#cbeab5"/>
<rect x="157.09" y="428.90" width="25.97" height="58.90" fill="#eaf7bb"/>
<rect x="182.77" y="428.90" width="25.97" height="58.90" fill="#eff9bd"/>
<rect x="208.44" y="428.90" width="25.97" height="58.90" fill="#e1f3b7"/>
<rect x="234.11" y="428.90" width="25.97" height="58.90" fill="#eff9bd"/>
<rect x="259.79" y="428.90" width="25.97" height="58.90" fill="#edf8bc"/>
<rect x="285.46" y="428.90" width="25.97" height="58.90" fill="#edf8bc"/>
<rect x="311.13" y="428.90" width="25.97" height="58.90" fill="#edf8bc"/>
<rect x="336.81" y="428.90" width="25.97" height="58.90" fill="#eff9bd"/>
<rect x="362.48" y="428.90" width="25.97" height="58.90" fill="#eff9bd"/>
<rect x="388.15" y="428.90" width="25.97" height="58.90" fill="#eff9bd"/>
<rect x="413.83" y="428.90" width="25.97" height="58.90" fill="#eff9bd"/>
<rect x="439.50" y="428.90" width="25.97" height="58.90" fill="#edf8bc"/>
<rect x="465.17" y="428.90" width="25.97" height="58.90" fill="#edf8bc"/>
<rect x="490.85" y="428.90" width="25.97" height="58.90" fill="#eaf7bb"/>
<rect x="516.52" y="428.90" width="25.97" height="58.90" fill="#edf8bc"/>
<rect x="542.19" y="428.90" width="25.97" height="58.90" fill="#edf8bc"/>
<rect x="567.86" y="428.90" width="25.97" height="58.90" fill="#eff9bd"/>
<rect x="593.54" y="428.90" width="25.97" height="58.90" fill="#e3f4b8"/>
<rect x="619.21" y="428.90" width="25.97" height="58.90" fill="#eff9bd"/>
<rect x="644.88" y="428.90" width="25.97" height="58.90" fill="#e5f5b9"/>
<rect x="670.56" y="428.90" width="25.97" height="58.90" fill="#e8f6ba"/>
<rect x="696.23" y="428.90" width="25.97" height="58.90" fill="#eaf7bb"/>
<rect x="721.90" y="428.90" width="25.97" height="58.90" fill="#edf8bc"/>
<rect x="747.58" y="428.90" width="25.97" height="58.90" fill="#edf8bc"/>
<rect x="773.25" y="428.90" width="25.97" height="58.90" fill="#e8f6ba"/>
<rect x="798.92" y="428.90" width="25.97" height="58.90" fill="#edf8bc"/>
<rect x="824.60" y="428.90" width="25.97" height="58.90" fill="#edf8bc"/>
<rect x="850.27" y="428.90" width="25.97" height="58.90" fill="#edf8bc"/>
<rect x="875.94" y="428.90" width="25.97" height="58.90" fill="#eaf7bb"/>
<rect x="901.62" y="428.90" width="25.97" height="58.90" fill="#edf8bc"/>
<rect x="927.29" y="428.90" width="25.97" height="58.90" fill="#eff9bd"/>
<rect x="952.96" y="428.90" width="25.97" height="58.90" fill="#edf8bc"/>
<rect x="978.64" y="428.90" width="25.97" height="58.90" fill="#eff9bd"/>
<rect x="1004.31" y="428.90" width="25.97" height="58.90" fill="#eff9bd"/>
<rect x="1029.98" y="428.90" width="25.97" height="58.90" fill="#eff9bd"/>
<rect x="1055.66" y="428.90" width="25.97" height="58.90" fill="#eff9bd"/>
<rect x="1081.33" y="428.90" width="25.97" height="58.90" fill="#eff9bd"/>
<rect x="1107.00" y="428.90" width="25.97" height="58.90" fill="#eff9bd"/>
<rect x="1132.68" y="428.90" width="25.97" height="58.90" fill="#eaf7bb"/>
<rect x="1158.35" y="428.90" width="25.97" height="58.90" fill="#edf8bc"/>
<rect x="1184.02" y="428.90" width="25.97" height="58.90" fill="#eaf7bb"/>
<rect x="1209.70" y="428.90" width="25.97" height="58.90" fill="#eff9bd"/>
<rect x="1235.37" y="428.90" width="25.97" height="58.90" fill="#eef8bc"/>
<rect x="1261.04" y="428.90" width="25.97" height="58.90" fill="#eef8bc"/>
<rect x="1286.72" y="428.90" width="25.97" height="58.90" fill="#eef8bc"/>
<rect x="1312.39" y="428.90" width="25.97" height="58.90" fill="#eef8bc"/>
<rect x="1338.06" y="428.90" width="25.97" height="58.90" fill="#eef8bc"/>
<rect x="1363.74" y="428.90" width="25.97" height="58.90" fill="#e3f4b8"/>
<rect x="1389.41" y="428.90" width="25.97" height="58.90" fill="#edf8bc"/>
<rect x="1415.08" y="428.90" width="25.97" height="58.90" fill="#edf8bc"/>
<rect x="1440.75" y="428.90" width="25.97" height="58.90" fill="#edf8bc"/>
<rect x="1466.43" y="428.90" width="25.97" height="58.90" fill="#eff9bd"/>
<rect x="1492.10" y="428.90" width="25.97" height="58.90" fill="#eaf7bb"/>
<rect x="1517.77" y="428.90" width="25.97" height="58.90" fill="#e5f5b9"/>
<rect x="1543.45" y="428.90" width="25.97" height="58.90" fill="#e8f6ba"/>
<rect x="1569.12" y="428.90" width="25.97" height="58.90" fill="#edf8bc"/>
<rect x="1594.79" y="428.90" width="25.97" height="58.90" fill="#eff9bd"/>
<rect x="1620.47" y="428.90" width="25.97" height="58.90" fill="#eff9bd"/>
<rect x="1646.14" y="428.90" width="25.97" height="58.90" fill="#eaf7bb"/>
<rect x="1671.81" y="428.90" width="25.97" height="58.90" fill="#eff9bd"/>
<rect x="1697.49" y="428.90" width="25.97" height="58.90" fill="#edf8bc"/>
<rect x="1723.16" y="428.90" width="25.97" height="58.90" fill="#eaf7bb"/>
<rect x="1748.83" y="428.90" width="25.97" height="58.90" fill="#edf8bc"/>
<rect x="1774.51" y="428.90" width="25.97" height="58.90" fill="#edf8bc"/>
<rect x="1800.18" y="428.90" width="25.97" height="58.90" fill="#e1f3b7"/>
<rect x="1825.85" y="428.90" width="25.97" height="58.90" fill="#eaf7bb"/>
</g>
<rect x="54.4" y="75.5" width="1822.8" height="412.3" fill="none" stroke="#ddd" stroke-width="1.6"/>
<g class="ax">
<line x1="55" x2="55" y1="74.8" y2="488.5"/>
<line x1="54.3" x2="1878" y1="487.8" y2="487.8"/>
<line x1="132.7" x2="132.7" y1="487.8" y2="496.3"/><line x1="246.3" x2="246.3" y1="487.8" y2="496.3"/><line x1="355.0" x2="355.0" y1="487.8" y2="496.3"/><line x1="468.6" x2="468.6" y1="487.8" y2="496.3"/><line x1="582.6" x2="582.6" y1="487.8" y2="496.3"/><line x1="689.8" x2="689.8" y1="487.8" y2="496.3"/><line x1="803.0" x2="803.0" y1="487.8" y2="496.3"/><line x1="913.7" x2="913.7" y1="487.8" y2="496.3"/><line x1="1027.2" x2="1027.2" y1="487.8" y2="496.3"/><line x1="1135.9" x2="1135.9" y1="487.8" y2="496.3"/><line x1="1249.5" x2="1249.5" y1="487.8" y2="496.3"/><line x1="1365.6" x2="1365.6" y1="487.8" y2="496.3"/><line x1="1473.7" x2="1473.7" y1="487.8" y2="496.3"/><line x1="1587.5" x2="1587.5" y1="487.8" y2="496.3"/><line x1="1697.9" x2="1697.9" y1="487.8" y2="496.3"/><line x1="1811.4" x2="1811.4" y1="487.8" y2="496.3"/><line x1="47" x2="55" y1="105.0" y2="105.0"/><line x1="47" x2="55" y1="163.8" y2="163.8"/><line x1="47" x2="55" y1="222.8" y2="222.8"/><line x1="47" x2="55" y1="281.6" y2="281.6"/><line x1="47" x2="55" y1="340.6" y2="340.6"/><line x1="47" x2="55" y1="399.4" y2="399.4"/><line x1="47" x2="55" y1="458.3" y2="458.3"/>
</g>
<g class="lbl" text-anchor="middle"><text x="132.2" y="513">October</text><text x="245.8" y="513">November</text><text x="354.5" y="513">December</text><text x="468.1" y="513">2024</text><text x="582.1" y="513">February</text><text x="689.3" y="513">March</text><text x="802.5" y="513">April</text><text x="913.2" y="513">May</text><text x="1026.7" y="513">June</text><text x="1135.4" y="513">July</text><text x="1249.0" y="513">August</text><text x="1365.1" y="513">September</text><text x="1473.2" y="513">October</text><text x="1587.0" y="513">November</text><text x="1697.4" y="513">December</text><text x="1810.9" y="513">2025</text></g>
<g class="lbl" text-anchor="end"><text x="43.5" y="110.5">1</text><text x="43.5" y="169.4">2</text><text x="43.5" y="228.3">3</text><text x="43.5" y="287.2">4</text><text x="43.5" y="346.2">5</text><text x="43.5" y="405.1">6</text><text x="43.5" y="463.9">7</text></g>
<text class="ttl" x="966.5" y="537.6" text-anchor="middle">Week</text>
<text class="ttl" transform="translate(24.8,281.5) rotate(-90)" text-anchor="middle">Day of Week</text>
<text class="ttl" x="1906.5" y="90.2">Issues Created</text>
<rect x="1906.4" y="102.2" width="26.09999999999991" height="329.3" fill="url(#lg)"/>
<g class="lbl"><text x="1936" y="122.7">40</text><text x="1936" y="201.1">30</text><text x="1936" y="279.5">20</text><text x="1936" y="357.9">10</text><text x="1936" y="428.3">0</text></g>
<rect x="1735.95" y="7.45" width="232" height="47.4" rx="6.5" fill="none" stroke="#cdd0d4" stroke-width="1.5"/>
<!-- chevron -->
<path d="M19.8 24.9 L26.55 31.1 L33.3 24.9" fill="none" stroke="#7d8590" stroke-width="2" stroke-linecap="round" stroke-linejoin="round"/>
<!-- sidebar icon -->
<g fill="none" stroke="#83878c" stroke-width="1.7" stroke-linecap="round" stroke-linejoin="round">
<rect x="1929.5" y="22.1" width="18" height="17.7" rx="2.6"/>
<line x1="1934.8" y1="22.1" x2="1934.8" y2="39.8"/>
<path d="M1942.6 28.9 L1940.2 31.3 L1942.6 33.7"/>
</g>
<!-- share icon -->
<g fill="none" stroke="#83878c" stroke-width="1.7" stroke-linecap="round" stroke-linejoin="round">
<path d="M2001 27.8 H1999.6 a2.2 2.2 0 0 0 -2.2 2.2 V38.4 a2.2 2.2 0 0 0 2.2 2.2 H2011.2 a2.2 2.2 0 0 0 2.2 -2.2 V30 a2.2 2.2 0 0 0 -2.2 -2.2 H2009.8"/>
<path d="M2005.4 33.6 V21.4 M2002.3 24.6 L2005.4 21.4 L2008.5 24.6"/>
</g>
</svg>
</body></html>
